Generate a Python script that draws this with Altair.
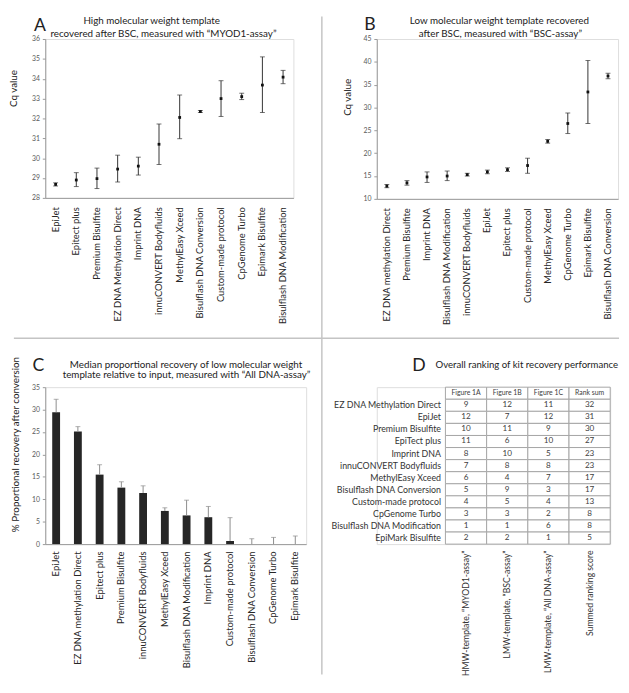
import altair as alt
import pandas as pd

FONT = "Lato"
DARK = "#222222"
AXIS_GREY = "#9a9a9a"
TICK_LAB = "#595959"

# ---------------- Panel A data ----------------
kits_a = ["EpiJet", "Epitect plus", "Premium Bisulfite", "EZ DNA Methylation Direct",
          "Imprint DNA", "innuCONVERT Bodyfluids", "MethylEasy Xceed",
          "Bisulflash DNA Conversion", "Custom-made protocol", "CpGenome Turbo",
          "Epimark Bisulfite", "Bisulflash DNA Modification"]
cq_a = [28.68, 28.90, 28.97, 29.45, 29.60, 30.70, 32.05, 32.35, 33.00, 33.10, 33.68, 34.08]
lo_a = [28.60, 28.57, 28.47, 28.80, 29.15, 29.68, 30.98, 32.30, 32.10, 32.95, 32.30, 33.75]
hi_a = [28.76, 29.27, 29.50, 30.15, 30.05, 31.72, 33.18, 32.40, 33.90, 33.27, 35.10, 34.42]
title_a = ["High molecular weight template",
           "recovered after BSC, measured with \u201cMYOD1-assay\u201d"]

# ---------------- Panel B data ----------------
kits_b = ["EZ DNA methylation Direct", "Premium Bisulfite", "Imprint DNA",
          "Bisulflash DNA Modification", "innuCONVERT Bodyfluids", "EpiJet",
          "Epitect plus", "Custom-made protocol", "MethylEasy Xceed", "CpGenome Turbo",
          "Epimark Bisulfite", "Bisulflash DNA Conversion"]
cq_b = [12.8, 13.5, 14.8, 15.0, 15.3, 15.9, 16.4, 17.3, 22.6, 26.5, 33.4, 36.9]
lo_b = [12.45, 13.0, 13.6, 14.0, 15.0, 15.5, 16.0, 15.6, 22.2, 24.3, 26.5, 36.3]
hi_b = [13.15, 14.0, 15.9, 16.1, 15.6, 16.3, 16.8, 18.9, 23.0, 28.8, 40.3, 37.5]
title_b = ["Low molecular weight template recovered",
           "after BSC, measured with \u201cBSC-assay\u201d"]

# ---------------- Panel C data ----------------
kits_c = ["EpiJet", "EZ DNA methylation Direct", "Epitect plus", "Premium Bisulfite",
          "innuCONVERT Bodyfluids", "MethylEasy Xceed", "Bisulflash DNA Modification",
          "Imprint DNA", "Custom-made protocol", "Bisulflash DNA Conversion",
          "CpGenome Turbo", "Epimark Bisulfite"]
rec_c = [29.4, 25.1, 15.5, 12.6, 11.4, 7.4, 6.4, 6.0, 0.7, 0.0, 0.0, 0.0]
hi_c = [32.3, 26.2, 17.7, 13.9, 13.0, 8.1, 9.8, 8.4, 5.9, 1.2, 1.5, 1.8]
title_c = ["Median proportional recovery of low molecular weight",
           "template relative to input, measured with \u201cAll DNA-assay\u201d"]

# ---------------- Panel D data ----------------
rows_d = ["EZ DNA Methylation Direct", "EpiJet", "Premium Bisulfite", "EpiTect plus",
          "Imprint DNA", "innuCONVERT Bodyfluids", "MethylEasy Xceed",
          "Bisulflash DNA Conversion", "Custom-made protocol", "CpGenome Turbo",
          "Bisulflash DNA Modification", "EpiMark Bisulfite"]
fig1a = [9, 12, 10, 11, 8, 7, 6, 5, 4, 3, 1, 2]
fig1b = [12, 7, 11, 6, 10, 8, 4, 9, 5, 3, 1, 2]
fig1c = [11, 12, 9, 10, 5, 8, 7, 3, 4, 2, 6, 1]
ranksum = [32, 31, 30, 27, 23, 23, 17, 17, 13, 8, 8, 5]
headers_d = ["Figure 1A", "Figure 1B", "Figure 1C", "Rank sum"]
cols_d = ["HMW-template, \u201cMYOD1-assay\u201d", "LMW-template, \u201cBSC-assay\u201d",
          "LMW-template, \u201cAll DNA-assay\u201d", "Summed ranking score"]
title_d = ["Overall ranking of kit recovery performance"]

letters = ["A", "B", "C", "D"]


def text_layer(txt, x, y, size, color=DARK):
    return alt.Chart(pd.DataFrame({"t": [txt]})).mark_text(
        font=FONT, fontSize=size, color=color, align="center", baseline="middle"
    ).encode(text="t:N", x=alt.value(x), y=alt.value(y))


def heading(letter, lxy, lines, pos, size=10):
    lays = [text_layer(letter, lxy[0], lxy[1], 18)]
    for line, (x, y) in zip(lines, pos):
        lays.append(text_layer(line, x, y, size))
    return lays


def x_axis(size, pad):
    return alt.Axis(labelAngle=-90, labelFontSize=size, labelColor="#262626",
                    labelFont=FONT, ticks=False, domainColor=AXIS_GREY,
                    labelPadding=pad, labelLimit=0)


def y_axis(values, ytitle_x, ytitle_y):
    return alt.Axis(values=values, labelFontSize=7, labelColor=TICK_LAB, labelFont=FONT,
                    tickSize=3, tickColor=AXIS_GREY, domainColor=AXIS_GREY, grid=False,
                    titleFont=FONT, titleFontSize=10, titleFontWeight="normal",
                    titleColor=DARK, titleX=ytitle_x, titleY=ytitle_y, labelPadding=3)


def cq_panel(kits, cq, lo, hi, ydom, yvals, w, h, head, tx, ty, extra=None):
    df = pd.DataFrame({"kit": kits, "cq": cq, "lo": lo, "hi": hi})
    xenc = alt.X("kit:N", sort=kits, title=None, axis=x_axis(9.6, 9))
    ysc = alt.Scale(domain=ydom, nice=False, zero=False)
    yax = y_axis(yvals, tx, ty)

    def Y(f):
        return alt.Y(f, scale=ysc, axis=yax, title="Cq value")

    base = alt.Chart(df).encode(x=xenc)
    rule = base.mark_rule(color="#333333", strokeWidth=1).encode(y=Y("lo:Q"), y2="hi:Q")
    cap1 = base.mark_tick(color="#333333", size=5, thickness=1).encode(y=Y("lo:Q"))
    cap2 = base.mark_tick(color="#333333", size=5, thickness=1).encode(y=Y("hi:Q"))
    pts = base.mark_point(shape="square", filled=True, size=8, color="#111111",
                          opacity=1).encode(y=Y("cq:Q"))
    layers = [rule, cap1, cap2, pts] + head
    if extra:
        layers += extra
    return alt.layer(*layers).properties(width=w, height=h)


# separators between panels (drawn relative to panel A's plot area)
sep_df = pd.DataFrame({"k": [0]})
sep_v = alt.Chart(sep_df).mark_rule(color="#c4c4c4", strokeWidth=1.5).encode(
    x=alt.value(282), y=alt.value(-23), y2=alt.value(648))
sep_h = alt.Chart(sep_df).mark_rule(color="#c4c4c4", strokeWidth=1.5).encode(
    y=alt.value(305), x=alt.value(-32), x2=alt.value(585))

panel_a = cq_panel(kits_a, cq_a, lo_a, hi_a, [28, 36], list(range(28, 37)), 253, 162,
                   heading(letters[0], (-5.5, -13.5), title_a, [(108.5, -18), (120.5, -5)]),
                   -27, 50, extra=[sep_v, sep_h])
panel_b = cq_panel(kits_b, cq_b, lo_b, hi_b, [10, 45], list(range(10, 46, 5)), 246, 163,
                   heading(letters[1], (-7, -14.5), title_b, [(125, -18), (126, -5)]),
                   -25, 59)

# ---------------- Panel C ----------------
df_c = pd.DataFrame({"kit": kits_c, "rec": rec_c, "hi": hi_c})
ysc_c = alt.Scale(domain=[0, 35], nice=False)
yax_c = y_axis(list(range(0, 36, 5)), -25, 58)


def Yc(f):
    return alt.Y(f, scale=ysc_c, axis=yax_c, title="% Proportional recovery after conversion")


base_c = alt.Chart(df_c).encode(x=alt.X("kit:N", sort=kits_c, title=None,
                                        axis=x_axis(9.6, 7)))
bars_c = base_c.mark_bar(size=8, color="#262626").encode(y=Yc("rec:Q"))
err_c = base_c.mark_rule(color="#8c8c8c", strokeWidth=1).encode(y=Yc("rec:Q"), y2="hi:Q")
cap_c = base_c.mark_tick(color="#8c8c8c", size=5, thickness=1).encode(y=Yc("hi:Q"))
panel_c = alt.layer(bars_c, err_c, cap_c,
                    *heading(letters[2], (-7, -21), title_c, [(143.5, -23), (144, -12)])
                    ).properties(width=266, height=160)

# ---------------- Panel D (table) ----------------
recs = []
for j, c in enumerate(cols_d):
    recs.append({"row": "", "col": c, "txt": headers_d[j], "hdr": "h"})
for i, r in enumerate(rows_d):
    vals = [fig1a[i], fig1b[i], fig1c[i], ranksum[i]]
    for j, c in enumerate(cols_d):
        recs.append({"row": r, "col": c, "txt": str(vals[j]), "hdr": "v"})
df_d = pd.DataFrame(recs)
row_dom = [""] + rows_d

xd = alt.X("col:N", sort=cols_d, title=None,
           scale=alt.Scale(domain=cols_d, range=[70, 238], paddingInner=0, paddingOuter=0),
           axis=alt.Axis(labelAngle=-90, labelFontSize=8.8, labelColor="#333333",
                         labelFont=FONT, ticks=False, domain=False, labelPadding=6,
                         labelLimit=0))
yd = alt.Y("row:N", sort=row_dom, title=None,
           scale=alt.Scale(domain=row_dom, paddingInner=0, paddingOuter=0),
           axis=alt.Axis(orient="left", offset=-70, labelFontSize=9, labelColor="#333333",
                         labelFont=FONT, ticks=False, domain=False, labelPadding=5,
                         labelLimit=0))
base_d = alt.Chart(df_d).encode(x=xd, y=yd)
cells = base_d.mark_rect(fill="white", stroke="#a6a6a6", strokeWidth=1)
txt_v = base_d.transform_filter(alt.datum.hdr == "v").mark_text(
    font=FONT, fontSize=8.3, color="#404040").encode(text="txt:N")
txt_h = base_d.transform_filter(alt.datum.hdr == "h").mark_text(
    font=FONT, fontSize=7, color="#404040").encode(text="txt:N")
panel_d = alt.layer(cells, txt_v, txt_h,
                    *heading(letters[3], (43, -21.5), title_d, [(153, -23)], size=9.8)
                    ).properties(width=238, height=160)

chart = alt.concat(panel_a, panel_b, panel_c, panel_d, columns=2,
                   spacing={"row": 192, "column": 72}, bounds="flush",
                   align="none").properties(padding=0).configure_view(
    stroke="transparent").configure(font=FONT)

chart.save("out.html", embed_options={"renderer": "svg", "actions": False})
